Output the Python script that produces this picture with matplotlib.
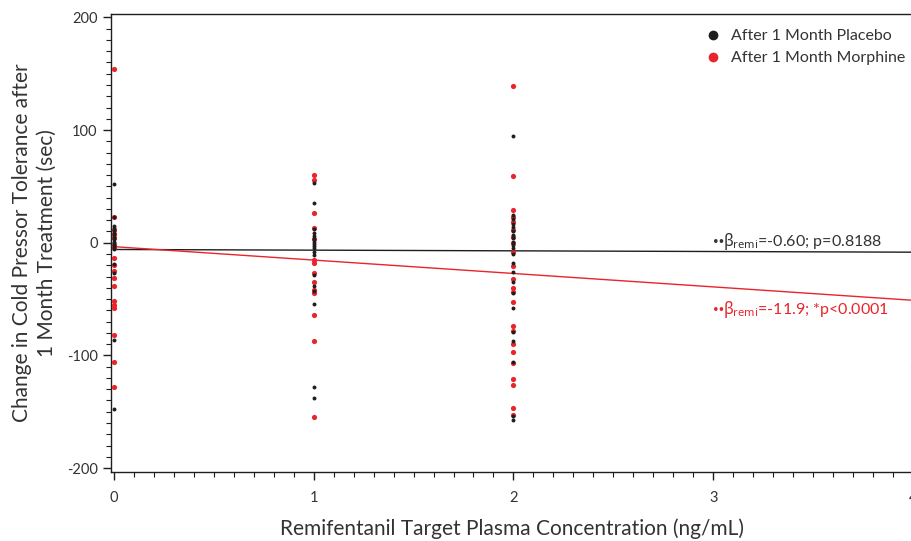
import numpy as np
import matplotlib
matplotlib.use("Agg")
import matplotlib.pyplot as plt
from matplotlib.ticker import MultipleLocator
from matplotlib.lines import Line2D

plt.rcParams["font.family"] = ["Lato", "DejaVu Sans"]
plt.rcParams["mathtext.fontset"] = "custom"
plt.rcParams["mathtext.rm"] = "Noto Sans"
plt.rcParams["mathtext.it"] = "Noto Sans"
plt.rcParams["axes.unicode_minus"] = False

# Concentrations (ng/mL) and individual changes (sec)
conc_levels = [0, 1, 2, 4]

placebo_vals = {
    0: [52, 23, 15, 13, 11, 9, 7, 5, 3, 1, 0, -2, -4, -6, -19, -27, -86, -148],
    1: [53, 35, 12, 9, 6, 3, 1, -1, -3, -5, -8, -11, -29, -38, -43, -54, -128, -138],
    2: [95, 25, 21, 17, 14, 10, 7, 4, 1, -2, -5, -10, -18, -26, -35, -45, -58,
        -79, -87, -106, -154, -157],
    4: [56, -31],
}
morphine_vals = {
    0: [154, 23, 11, 8, 4, -2, -5, -14, -20, -25, -31, -38, -52, -55, -58, -82, -106, -128],
    1: [60, 56, 26, 13, 3, -15, -18, -27, -35, -42, -45, -64, -87, -155],
    2: [139, 59, 29, 23, 18, 11, 5, 0, -8, -21, -32, -40, -44, -53, -74, -78, -90,
        -97, -107, -121, -126, -147, -153],
    4: [0, -7, -53, -71, -79, -92, -109, -120],
}

# regression fits (intercept, slope)
placebo_fit = (-6.0, -0.60)
morphine_fit = (-3.5, -11.9)
placebo_note = "=-0.60; p=0.8188"
morphine_note = "=-11.9; *p<0.0001"

black = "#1e1e1e"
red = "#e8252b"
txt = "#333333"

fig = plt.figure(figsize=(9.12, 5.41), dpi=100)
ax = fig.add_axes([111.5 / 912, 69 / 541, (913 - 111.5) / 912, (472 - 14) / 541])

for c in conc_levels:
    ax.scatter(np.full(len(morphine_vals[c]), c), morphine_vals[c], s=14, color=red,
               linewidths=0, zorder=3, clip_on=False)
for c in conc_levels:
    ax.scatter(np.full(len(placebo_vals[c]), c), placebo_vals[c], s=8, color=black,
               linewidths=0, zorder=4, clip_on=False)

xx = np.array([0, 4])
ax.plot(xx, placebo_fit[0] + placebo_fit[1] * xx, color=black, lw=1.0, zorder=2)
ax.plot(xx, morphine_fit[0] + morphine_fit[1] * xx, color=red, lw=1.0, zorder=2)

# annotations: two small dots followed by the coefficient text
for yy, note, col in [(1.5, placebo_note, txt), (-59.5, morphine_note, red)]:
    ax.text(3.0, yy, "\u2022\u2022", color=col, fontsize=7, va="center", ha="left")
    ax.annotate(r"$\mathrm{\beta}_{\mathrm{remi}}$" + note, xy=(3.0, yy),
                xytext=(7, 0), textcoords="offset points", color=col,
                fontsize=11.5, va="center", ha="left")

ax.set_xlim(-0.012, 4.0)
ax.set_ylim(-203.5, 203)
ax.set_xticks([0, 1, 2, 3, 4])
ax.set_yticks([-200, -100, 0, 100, 200])
ax.xaxis.set_minor_locator(MultipleLocator(0.1))
ax.yaxis.set_minor_locator(MultipleLocator(10))
ax.tick_params(which="major", direction="out", length=6, width=1, colors=black,
               labelcolor=txt, labelsize=10.5)
ax.tick_params(which="minor", direction="out", length=3.5, width=0.8, colors=black)
ax.tick_params(axis="x", pad=8)
ax.tick_params(axis="y", pad=4)

ax.spines["right"].set_visible(False)
for s in ["left", "bottom", "top"]:
    ax.spines[s].set_color(black)
    ax.spines[s].set_linewidth(1.0)

ax.set_xlabel("Remifentanil Target Plasma Concentration (ng/mL)", fontsize=15,
              color=txt, labelpad=9)
ax.set_ylabel("Change in Cold Pressor Tolerance after\n1 Month Treatment (sec)",
              fontsize=15, color=txt, labelpad=7, linespacing=1.3)

handles = [
    Line2D([], [], marker="o", ls="", color=black, markersize=6),
    Line2D([], [], marker="o", ls="", color=red, markersize=6),
]
fig.legend(handles, ["After 1 Month Placebo", "After 1 Month Morphine"],
           loc="upper left", bbox_to_anchor=(697 / 912, 1 - 29 / 541), frameon=False,
           fontsize=11.5, handletextpad=0.1, labelspacing=0.5, labelcolor=txt,
           borderaxespad=0, borderpad=0)

fig.savefig("out.png", dpi=100)
